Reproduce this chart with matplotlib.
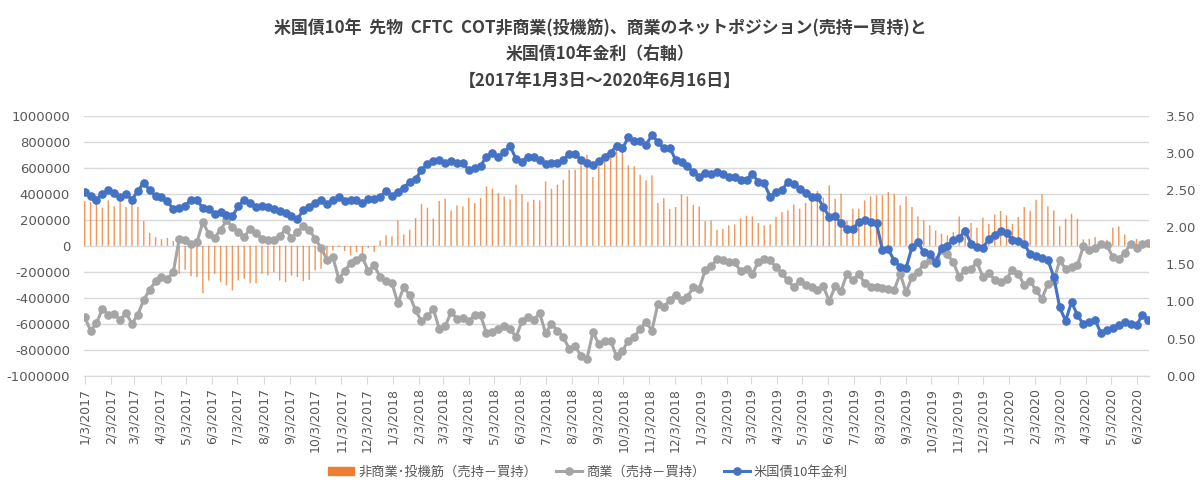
import matplotlib
matplotlib.use("Agg")
import matplotlib.pyplot as plt
from matplotlib.lines import Line2D
from matplotlib.patches import Patch
import pandas as pd

plt.rcParams['font.family'] = ['Noto Sans CJK JP', 'DejaVu Sans']

# weekly dates (Tuesdays)
dates = pd.date_range('2017-01-03', '2020-06-16', freq='7D')

# non-commercial net position (short - long), thousands
noncomm = [344, 336, 323, 293, 349, 303, 336, 298, 380, 298, 190, 98, 67, 51, 62, 36,
           -216, -185, -234, -241, -365, -267, -216, -280, -305, -344, -267, -254, -288,
           -288, -216, -228, -203, -267, -280, -228, -241, -272, -262, -190, -177, -87, -36,
           -10, -41, -74, -49, -87, -15, -49, 41, 80, 72, 195, 87, 123, 213, 323,
           293, 208, 344, 362, 272, 311, 303, 370, 329, 367, 457, 439, 405, 380, 357, 470,
           395, 336, 354, 349, 495, 439, 470, 508, 585, 585, 619, 701, 529,
           611, 644, 683, 739, 721, 619, 611, 547, 503, 542, 329, 367, 282, 298, 395, 380,
           313, 303, 190, 195, 123, 131, 157, 164, 210, 231, 226, 175, 157,
           164, 221, 259, 272, 318, 285, 329, 354, 421, 370, 465, 362, 400, 195, 285, 285,
           349, 380, 388, 388, 413, 400, 311, 380, 298, 226, 195, 157, 118,
           92, 80, 105, 226, 144, 175, 139, 216, 169, 241, 267, 234, 169, 221, 298, 267,
           354, 395, 303, 272, 151, 208, 246, 208, 49, 54, 67, 28,
           46, 139, 149, 87, 15, 54, 20, 28]

# commercial net position (short - long), thousands
comm = [-549, -652, -596, -485, -529, -524, -570, -516, -601, -529, -416, -339, -272, -241,
        -254, -203, 54, 41, 15, 28, 182, 92, 62, 123, 195, 144, 105, 67, 131,
        98, 54, 41, 46, 72, 128, 59, 105, 149, 123, 54, -15, -108, -87, -254, -195, -133,
        -113, -87, -195, -151, -241, -272, -288, -442, -318, -382, -498, -580,
        -544, -485, -639, -621, -511, -562, -554, -580, -531, -536, -673, -665, -639, -621,
        -639, -703, -580, -549, -570, -519, -673, -601, -652, -703, -793, -775, -845, -870, -665,
        -755, -729, -729, -852, -811, -729, -703, -639, -588, -652, -447, -472, -421, -377,
        -421, -395, -318, -331, -190, -159, -105, -108, -126, -126, -195, -177, -216, -126, -100,
        -113, -164, -211, -267, -318, -272, -305, -318, -344, -313, -426, -313, -349, -216,
        -267, -216, -288, -318, -318, -323, -331, -339, -216, -357, -241, -203, -139, -108, -113,
        -36, -67, -126, -241, -185, -177, -126, -241, -211, -262, -280, -254, -185, -216, -305,
        -272, -344, -408, -293, -272, -113, -177, -164, -151, -5, -36, -15, 15,
        3, -87, -100, -56, 15, -15, 10, 21]

# US 10y yield (%)
yield10 = [2.47, 2.42, 2.37, 2.45, 2.50, 2.46, 2.40, 2.45, 2.37, 2.49, 2.60, 2.50, 2.42, 2.40,
           2.35, 2.24, 2.26, 2.29, 2.37, 2.36, 2.26, 2.24, 2.18, 2.20, 2.17, 2.15, 2.28, 2.37, 2.33,
           2.27, 2.29, 2.27, 2.24, 2.22, 2.19, 2.15, 2.11, 2.23, 2.27, 2.33, 2.36, 2.31, 2.37,
           2.41, 2.35, 2.37, 2.36, 2.33, 2.38, 2.38, 2.40, 2.49, 2.42, 2.47, 2.53, 2.61, 2.65, 2.77,
           2.85, 2.89, 2.91, 2.86, 2.89, 2.86, 2.86, 2.77, 2.80, 2.83, 2.95, 3.00, 2.95, 3.01,
           3.09, 2.92, 2.88, 2.95, 2.94, 2.90, 2.85, 2.86, 2.86, 2.91, 2.98, 2.98, 2.91, 2.86, 2.84,
           2.89, 2.95, 3.00, 3.10, 3.06, 3.21, 3.16, 3.16, 3.11, 3.24, 3.15, 3.06, 3.07, 2.91,
           2.88, 2.82, 2.74, 2.68, 2.73, 2.72, 2.75, 2.71, 2.68, 2.68, 2.63, 2.63, 2.72, 2.61, 2.59,
           2.41, 2.47, 2.50, 2.61, 2.58, 2.52, 2.46, 2.41, 2.41, 2.27, 2.14, 2.15, 2.05, 1.98,
           1.98, 2.07, 2.10, 2.07, 2.05, 1.69, 1.70, 1.55, 1.47, 1.45, 1.73, 1.80, 1.66, 1.64, 1.52,
           1.72, 1.75, 1.83, 1.86, 1.95, 1.78, 1.73, 1.72, 1.84, 1.90, 1.95, 1.92, 1.83, 1.82,
           1.77, 1.64, 1.61, 1.59, 1.56, 1.33, 0.92, 0.74, 0.99, 0.82, 0.69, 0.73, 0.75, 0.57,
           0.61, 0.64, 0.68, 0.72, 0.70, 0.68, 0.82, 0.75]

noncomm = [v * 1000 for v in noncomm]
comm = [v * 1000 for v in comm]

title = ("米国債10年  先物  CFTC  COT非商業(投機筋)、商業のネットポジション(売持ー買持)と\n"
         "米国債10年金利（右軸）\n"
         "【2017年1月3日～2020年6月16日】")
labels = ['非商業･投機筋（売持－買持）', '商業（売持－買持）', '米国債10年金利']

orange = '#ED7D31'
grey = '#A5A5A5'
blue = '#4472C4'
txt = '#595959'

fig = plt.figure(figsize=(12, 4.97), dpi=100)
ax = fig.add_axes([0.07, 0.244, 0.8875, 0.523])
ax2 = ax.twinx()

# thin bars, not snapped to pixels so they all look the same
bars = ax.bar(dates, noncomm, width=1.7, color=orange, linewidth=0, alpha=0.8, zorder=2)
for b in bars:
    b.set_snap(False)
ax.plot(dates, comm, color=grey, lw=2.2, marker='o', ms=5.2, zorder=3)
ax2.plot(dates, yield10, color=blue, lw=2.2, marker='o', ms=5.2, zorder=3)

ax.set_ylim(-1000000, 1000000)
ax.set_yticks(range(-1000000, 1000001, 200000))
ax.set_yticklabels([str(v) for v in range(-1000000, 1000001, 200000)])
ax2.set_ylim(0, 3.5)
ax2.set_yticks([i * 0.5 for i in range(8)])
ax2.set_yticklabels(['%.2f' % (i * 0.5) for i in range(8)])

ax.set_xlim(dates[0] - pd.Timedelta(days=0.8), dates[-1] + pd.Timedelta(days=0.8))
ticks = pd.date_range('2017-01-03', '2020-06-03', freq=pd.DateOffset(months=1))
ax.set_xticks(ticks)
ax.set_xticklabels([f"{d.month}/{d.day}/{d.year}" for d in ticks], rotation=90)

ax.grid(axis='y', color='#D9D9D9', lw=1)
ax.set_axisbelow(True)
for a in (ax, ax2):
    for s in ('top', 'left', 'right'):
        a.spines[s].set_visible(False)
    a.spines['bottom'].set_color('#D9D9D9')
ax.tick_params(axis='x', colors='#D9D9D9', length=6, labelcolor=txt, labelsize=9, pad=3)
ax.tick_params(axis='y', length=0, labelcolor=txt, labelsize=9.5, pad=10)
ax2.tick_params(axis='y', length=0, labelcolor=txt, labelsize=9.5, pad=12)
for lab in ax.get_xticklabels() + ax.get_yticklabels() + ax2.get_yticklabels():
    lab.set_fontfamily('DejaVu Sans')

fig.text(0.5, 0.962, title, ha='center', va='top', fontsize=12.2, fontweight='bold',
         color='#404040', linespacing=1.6)

handles = [Patch(color=orange),
           Line2D([], [], color=grey, lw=2.2, marker='o', ms=5.2),
           Line2D([], [], color=blue, lw=2.2, marker='o', ms=5.2)]
fig.legend(handles, labels, loc='center', bbox_to_anchor=(0.49, 0.05), ncol=3,
           frameon=False, fontsize=9.5, labelcolor=txt, handlelength=2.0, handleheight=0.5,
           columnspacing=1.4, handletextpad=0.3)

fig.savefig('out.png', dpi=100)
